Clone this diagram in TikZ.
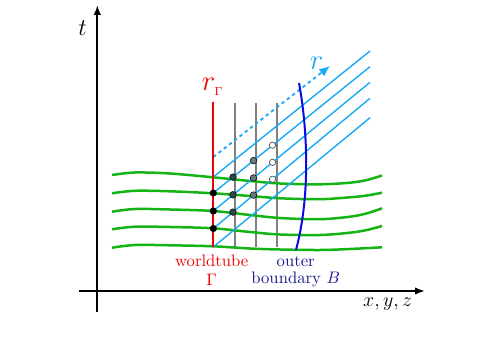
\documentclass[tikz,border=0pt]{standalone}
\usetikzlibrary{arrows.meta,calc}
\definecolor{cgreen}{RGB}{20,180,20}
\definecolor{clblue}{RGB}{25,170,245}
\definecolor{cred}{RGB}{240,0,0}
\definecolor{cnavy}{RGB}{25,25,140}
\definecolor{cblue}{RGB}{10,10,230}
\definecolor{cdotA}{RGB}{45,70,70}
\definecolor{cdotB}{RGB}{105,120,120}
\begin{document}
\begin{tikzpicture}[x=0.6pt,y=-0.6pt,
  axis/.style={line width=1.1pt,-{Latex[length=6pt,width=4.5pt]}},
  slice/.style={cgreen,line width=1.5pt},
  gridline/.style={black!50,line width=1.1pt},
  ray/.style={clblue,line width=0.85pt},
  blackdot/.style={circle,fill=black,inner sep=0pt,minimum size=4.3pt},
  dotA/.style={circle,draw=black,line width=0.3pt,fill=cdotA,inner sep=0pt,minimum size=4pt},
  dotB/.style={circle,draw=black,line width=0.3pt,fill=cdotB,inner sep=0pt,minimum size=4pt},
  dotW/.style={circle,draw=black!70,line width=0.4pt,fill=white,inner sep=0pt,minimum size=3.8pt}]
\useasboundingbox (0,0) rectangle (490,347);

% axes
\coordinate (tb) at (97.3,312);
\coordinate (tt) at (97.3,5);
\coordinate (xl) at (79,291);
\coordinate (xr) at (425,291);
\draw[axis] (tb) -- (tt);
\draw[axis] (xl) -- (xr);
\node[font=\Large,anchor=base,inner sep=0pt] (tlab) at (82.5,36) {$t$};
\node[font=\large,anchor=base,inner sep=0pt] (xlab) at (387.7,306.7) {$x,y,z$};

% gray grid lines
\foreach \gx [count=\i] in {235,255.7,276.7}{
  \coordinate (g\i t) at (\gx,102.7);
  \coordinate (g\i b) at (\gx,246.7);
  \draw[gridline] (g\i t) -- (g\i b);
}

% green slices
\draw[slice] plot[smooth,tension=0.55] coordinates {(112,175) (135,172.5) (170,173.5) (213,177.3) (250,181) (280,183.5) (320,184.3) (350,182.7) (367,180) (382,175.5)};
\draw[slice] plot[smooth,tension=0.55] coordinates {(112,193.3) (135,190.8) (170,191.3) (213,193.3) (250,196) (280,198.3) (320,199.2) (350,197.3) (367,195.5) (382,192.7)};
\draw[slice] plot[smooth,tension=0.55] coordinates {(112,211.7) (135,209) (170,209.5) (213,211) (250,215) (280,218) (320,219.2) (350,216.7) (367,213.3) (382,208.3)};
\draw[slice] plot[smooth,tension=0.55] coordinates {(112,229.3) (135,226.7) (170,227) (213,228.3) (250,232) (280,234.5) (320,235) (350,232.7) (367,230) (382,226)};
\draw[slice] plot[smooth,tension=0.55] coordinates {(112,247.7) (135,245) (170,245.3) (213,246.3) (250,248.5) (280,249.5) (320,250) (350,249) (382,247.3)};

% light blue rays
\coordinate (b0s) at (213.3,247);   \coordinate (b0e) at (370,117.7);
\coordinate (b1s) at (213.3,228.5); \coordinate (b1e) at (370,98.3);
\coordinate (b2s) at (213.3,211);   \coordinate (b2e) at (370,82.3);
\coordinate (b3s) at (213.3,193);   \coordinate (b3e) at (370,66.7);
\coordinate (b4s) at (213.3,177);   \coordinate (b4e) at (370,51);
\foreach \k in {0,...,4}{ \draw[ray] (b\k s) -- (b\k e); }
\coordinate (b5s) at (213.3,157);
\coordinate (b5e) at (330,66);
\draw[clblue,line width=1.1pt,dash pattern=on 2pt off 2pt,-{Latex[length=6.5pt,width=5.5pt]}] (b5s) -- (b5e);
\node[font=\LARGE,text=clblue,anchor=base,inner sep=0pt] (rlab) at (316.7,70) {$r$};

% worldtube
\coordinate (wt) at (213.3,101.7);
\coordinate (wb) at (213.3,247);
\draw[cred,line width=1.1pt] (wt) -- (wb);
\node[text=cred,anchor=base west,inner sep=0pt] (rg) at (201.5,90.7) {{\LARGE$r$}\kern-0.5pt\raisebox{-2.6pt}{\scriptsize$\Gamma$}};

% outer boundary
\coordinate (ot) at (299,83);
\coordinate (ob) at (296,250);
\draw[cblue,line width=1.2pt] (ot) .. controls (306,120) and (312,190) .. (ob);

% dots
\foreach \k in {1,2,3}{
  \node[blackdot] (d0\k) at (b\k s) {};
  \node[dotA] (d1\k) at ($(b\k s)!0.1257!(b\k e)$) {};
  \node[dotB] (d2\k) at ($(b\k s)!0.2565!(b\k e)$) {};
  \node[dotW] (d3\k) at ($(b\k s)!0.378!(b\k e)$) {};
}

% labels
\node[text=cred,align=center,anchor=base,inner sep=0pt] (wtlab) at (211.7,285) {worldtube\\[-1pt]$\Gamma$};
\node[text=cnavy,align=center,anchor=base,inner sep=0pt] (oblab) at (295.7,283.3) {outer\\[-2pt]boundary $B$};
\end{tikzpicture}
\end{document}
